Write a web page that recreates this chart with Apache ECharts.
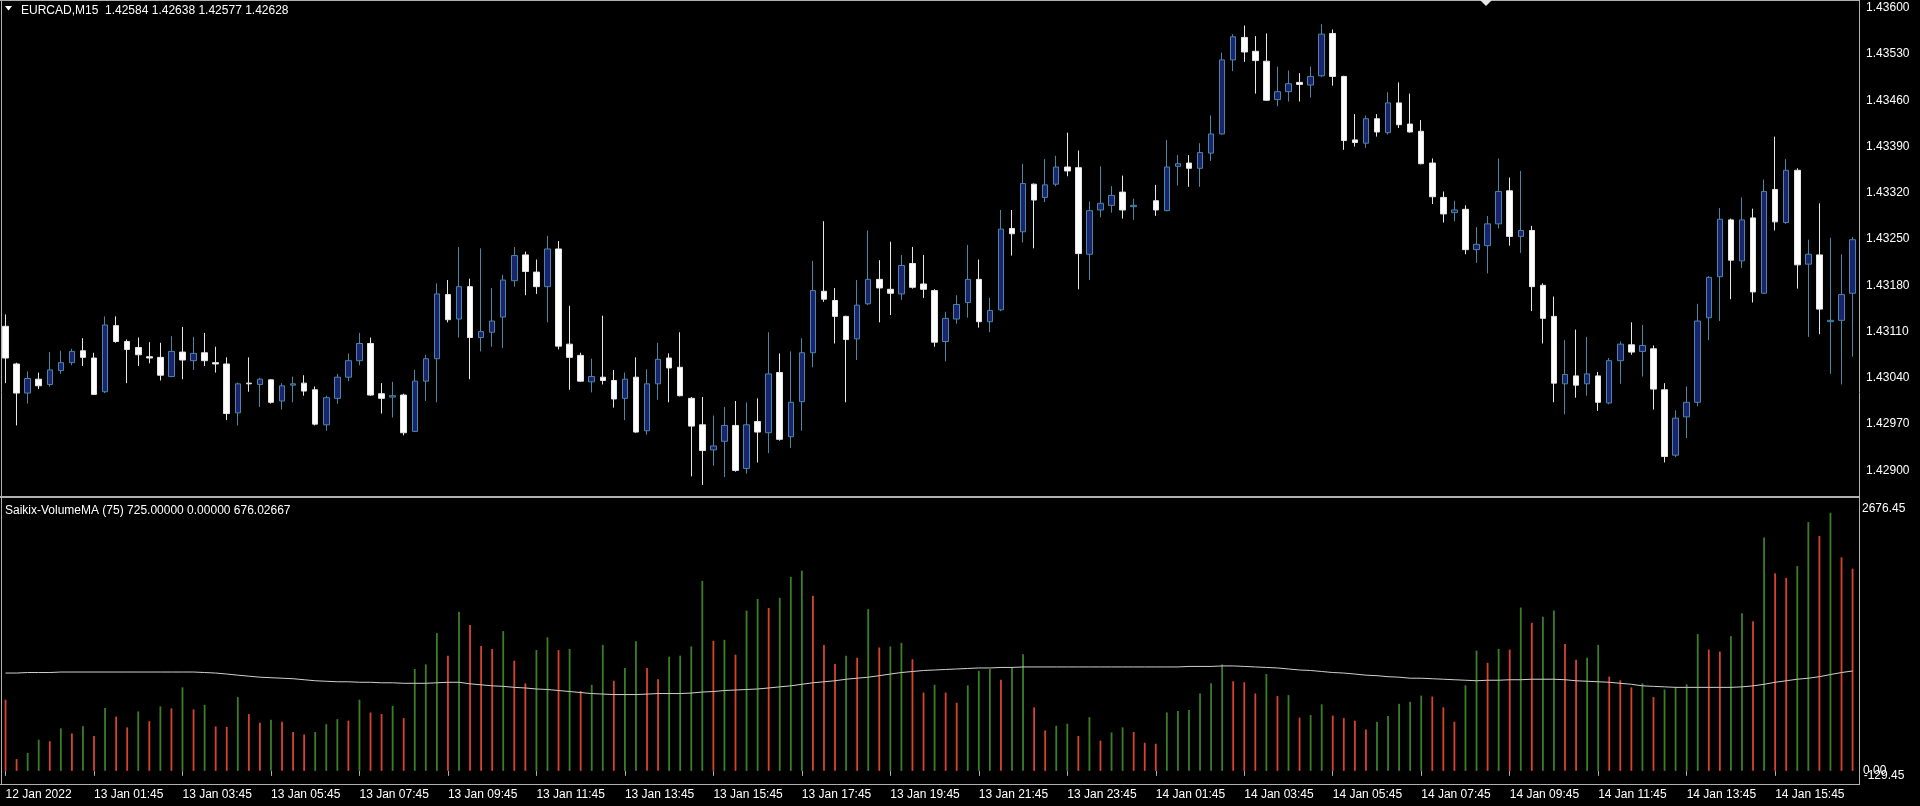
<!DOCTYPE html>
<html>
<head>
<meta charset="utf-8">
<script src="https://cdn.jsdelivr.net/npm/echarts/dist/echarts.min.js"></script>
<style>
html,body{margin:0;padding:0;background:#000;}
#c{width:1920px;height:806px;}
</style>
</head>
<body>
<div id="c"></div>
<script>
// ---- data (EURCAD M15, 12 Jan 2022 23:45 .. 14 Jan 2022 17:30) ----
const startTime = '2022-01-12T23:45:00Z';
const barCount = 168;

const open = [1.43118,1.43061,1.43017,1.43038,1.43030,1.43051,1.43063,1.43081,1.43070,1.43019,
1.43119,1.43095,1.43086,1.43072,1.43071,1.43042,1.43079,1.43066,1.43078,1.43063,
1.43061,1.42987,1.43032,1.43030,1.43037,1.43005,1.43029,1.43032,1.43022,1.42969,
1.43009,1.43041,1.43066,1.43092,1.43016,1.43011,1.43014,1.42959,1.43035,1.43069,
1.43166,1.43129,1.43178,1.43101,1.43109,1.43132,1.43187,1.43226,1.43200,1.43178,
1.43235,1.43091,1.43074,1.43034,1.43041,1.43036,1.43009,1.43041,1.42960,1.43031,
1.43070,1.43056,1.43009,1.42969,1.42931,1.42944,1.42968,1.42903,1.42974,1.42957,
1.43048,1.42951,1.43004,1.43078,1.43171,1.43157,1.43133,1.43099,1.43152,1.43189,
1.43174,1.43167,1.43213,1.43182,1.43172,1.43095,1.43129,1.43154,1.43189,1.43125,
1.43143,1.43266,1.43261,1.43333,1.43313,1.43333,1.43359,1.43358,1.43227,1.43294,
1.43301,1.43321,1.43299,null,1.43308,1.43293,1.43360,1.43365,1.43357,1.43380,
1.43409,1.43521,1.43555,1.43534,1.43519,1.43461,1.43473,1.43487,1.43483,1.43497,
1.43561,1.43496,1.43400,1.43395,1.43432,1.43411,1.43456,1.43424,1.43413,1.43365,
1.43313,1.43290,1.43295,1.43234,1.43240,1.43273,1.43323,1.43254,1.43263,1.43180,
1.43133,1.43031,1.43043,1.43031,1.43043,1.43002,1.43066,1.43090,1.43080,1.43084,
1.43022,1.42923,1.42981,1.43003,1.43131,1.43193,1.43279,1.43217,1.43282,1.43168,
1.43325,1.43275,1.43354,1.43212,1.43226,1.43125,1.43127,1.43168];

const high = [1.43136,1.43063,1.43050,1.43048,1.43079,1.43081,1.43084,1.43100,1.43078,1.43133,
1.43133,1.43098,1.43101,1.43094,1.43093,1.43103,1.43117,1.43102,1.43108,1.43087,
1.43071,1.43033,1.43071,1.43040,1.43038,1.43032,1.43042,1.43044,1.43027,1.43013,
1.43046,1.43077,1.43108,1.43101,1.43032,1.43034,1.43016,1.43052,1.43075,1.43183,
1.43188,1.43238,1.43190,1.43236,1.43176,1.43196,1.43238,1.43231,1.43219,1.43255,
1.43247,1.43149,1.43078,1.43069,1.43134,1.43052,1.43048,1.43071,1.43053,1.43093,
1.43077,1.43109,1.43011,1.43011,1.42983,1.42996,1.43005,1.43003,1.43009,1.43109,
1.43077,1.43080,1.43100,1.43217,1.43277,1.43176,1.43134,1.43188,1.43263,1.43218,
1.43246,1.43226,1.43238,1.43226,1.43174,1.43140,1.43165,1.43241,1.43219,1.43161,
1.43294,1.43294,1.43364,1.43334,1.43371,1.43376,1.43411,1.43384,1.43307,1.43360,
1.43330,1.43346,1.43311,null,1.43332,1.43400,1.43377,1.43377,1.43395,1.43437,
1.43532,1.43560,1.43573,1.43557,1.43561,1.43511,1.43505,1.43501,1.43511,1.43575,
1.43567,1.43497,1.43439,1.43437,1.43439,1.43472,1.43487,1.43470,1.43430,1.43372,
1.43322,1.43308,1.43301,1.43268,1.43285,1.43372,1.43343,1.43353,1.43270,1.43183,
1.43163,1.43097,1.43113,1.43102,1.43049,1.43070,1.43095,1.43124,1.43120,1.43089,
1.43032,1.42991,1.43027,1.43152,1.43194,1.43297,1.43281,1.43313,1.43296,1.43340,
1.43405,1.43371,1.43357,1.43249,1.43304,1.43252,1.43227,1.43253];

const low = [1.43032,1.42968,1.43001,1.43023,1.43027,1.43046,1.43059,1.43058,1.43014,1.43017,
1.43093,1.43032,1.43058,1.43062,1.43036,1.43041,1.43038,1.43052,1.43058,1.43048,
1.42976,1.42968,1.43019,1.42996,1.43001,1.42992,1.43003,1.43013,1.42968,1.42960,
1.43001,1.43035,1.43059,1.43013,1.42986,1.42980,1.42953,1.42958,1.43005,1.43003,
1.43124,1.43101,1.43038,1.43080,1.43087,1.43085,1.43178,1.43165,1.43167,1.43124,
1.43083,1.43022,1.43034,1.43018,1.43030,1.42995,1.42976,1.42957,1.42954,1.43007,
1.43003,1.43012,1.42891,1.42878,1.42907,1.42890,1.42898,1.42895,1.42912,1.42926,
1.42945,1.42934,1.42960,1.43056,1.43155,1.43092,1.43003,1.43067,1.43150,1.43124,
1.43135,1.43158,1.43175,1.43161,1.43087,1.43065,1.43122,1.43131,1.43116,1.43109,
1.43141,1.43225,1.43245,1.43236,1.43306,1.43330,1.43345,1.43174,1.43188,1.43283,
1.43290,1.43281,1.43279,null,1.43285,1.43292,1.43331,1.43329,1.43329,1.43368,
1.43408,1.43504,1.43518,1.43470,1.43459,1.43451,1.43458,1.43458,1.43464,1.43495,
1.43482,1.43385,1.43390,1.43388,1.43405,1.43408,1.43418,1.43411,1.43363,1.43303,
1.43275,1.43277,1.43227,1.43214,1.43198,1.43266,1.43240,1.43229,1.43141,1.43092,
1.43003,1.42985,1.43010,1.43013,1.42990,1.43000,1.43031,1.43075,1.43042,1.42992,
1.42912,1.42920,1.42949,1.42997,1.43097,1.43126,1.43159,1.43206,1.43154,1.43167,
1.43263,1.43273,1.43175,1.43102,1.43106,1.43046,1.43030,1.43072];

const close = [1.43070,1.43017,1.43039,1.43028,1.43052,1.43063,1.43080,1.43071,1.43015,1.43120,
1.43095,1.43083,1.43075,1.43070,1.43044,1.43080,1.43067,1.43077,1.43066,1.43061,
1.42986,1.43031,1.43031,1.43038,1.43003,1.43028,1.43031,1.43020,1.42970,1.43010,
1.43041,1.43066,1.43092,1.43014,1.43009,1.43013,1.42957,1.43035,1.43069,1.43167,
1.43128,1.43178,1.43101,1.43110,1.43126,1.43188,1.43225,1.43201,1.43178,1.43235,
1.43088,1.43071,1.43035,1.43042,1.43036,1.43008,1.43038,1.42958,1.43031,1.43068,
1.43055,1.43013,1.42967,1.42930,1.42937,1.42968,1.42900,1.42969,1.42958,1.43046,
1.42947,1.43003,1.43078,1.43172,1.43159,1.43133,1.43098,1.43150,1.43189,1.43176,
1.43168,1.43210,1.43177,1.43174,1.43094,1.43130,1.43151,1.43189,1.43125,1.43142,
1.43265,1.43258,1.43334,1.43309,1.43332,1.43359,1.43353,1.43228,1.43293,1.43304,
1.43316,1.43294,1.43301,null,1.43294,1.43359,1.43364,1.43357,1.43381,1.43409,
1.43521,1.43556,1.43533,1.43520,1.43460,1.43473,1.43485,1.43484,1.43496,1.43560,
1.43496,1.43399,1.43396,1.43432,1.43412,1.43456,1.43423,1.43412,1.43364,1.43314,
1.43288,1.43294,1.43234,1.43242,1.43273,1.43322,1.43254,1.43263,1.43178,1.43130,
1.43032,1.43045,1.43029,1.43046,1.43003,1.43066,1.43091,1.43079,1.43089,1.43023,
1.42921,1.42979,1.43003,1.43126,1.43192,1.43280,1.43218,1.43279,1.43170,1.43322,
1.43276,1.43354,1.43211,1.43227,1.43144,1.43127,1.43166,1.43249];

const volume = [701,116,176,307,292,418,368,438,343,620,
534,428,585,489,635,615,822,605,650,438,
433,726,559,474,504,484,383,358,383,459,
509,494,701,575,559,640,519,1003,1048,1356,
1134,1567,1436,1230,1200,1376,1084,862,1189,1315,
1189,1200,786,847,1240,887,1013,1275,1013,902,
1124,1134,1225,1870,1280,1290,1144,1578,1693,1603,
1704,1910,1971,1724,1240,1053,1134,1114,1593,1215,
1225,1260,1099,771,847,771,670,842,983,1003,
897,1023,1149,625,398,444,464,343,529,297,
378,428,383,277,267,575,590,600,761,862,
1048,882,872,761,953,736,746,524,549,655,
544,519,494,408,484,539,660,680,741,731,
625,484,842,1184,1063,1200,1194,1608,1457,1517,
1578,1250,1094,1114,1240,927,892,822,862,726,
801,827,852,1346,1194,1174,1326,1552,1472,2298,
1945,1900,2016,2449,2313,2540,2102,1991];
const firstVolumeUp = false;

const volumeMA = [963,963,968,968,968,973,973,973,973,973,
973,973,973,973,973,973,973,973,968,963,
953,942,932,922,917,912,907,897,887,882,
877,877,872,872,867,867,862,862,862,867,
872,872,857,847,837,832,822,816,806,801,
791,781,771,761,756,751,751,751,756,761,
761,761,766,776,781,791,796,801,806,816,
827,837,852,867,877,887,902,912,922,937,
953,968,978,988,993,998,1003,1008,1013,1013,
1018,1018,1023,1023,1023,1023,1023,1023,1023,1023,
1023,1023,1023,1023,1023,1023,1023,1028,1028,1028,
1033,1033,1028,1023,1018,1013,1003,993,988,978,
968,963,953,942,937,927,922,912,912,907,
902,897,892,887,892,892,897,897,902,902,
902,897,887,882,877,872,862,852,837,832,
827,822,822,822,822,822,822,827,837,852,
872,887,902,912,927,948,968,983];

const timeLabels = ['12 Jan 2022','13 Jan 01:45','13 Jan 03:45','13 Jan 05:45','13 Jan 07:45',
'13 Jan 09:45','13 Jan 11:45','13 Jan 13:45','13 Jan 15:45','13 Jan 17:45','13 Jan 19:45',
'13 Jan 21:45','13 Jan 23:45','14 Jan 01:45','14 Jan 03:45','14 Jan 05:45','14 Jan 07:45',
'14 Jan 09:45','14 Jan 11:45','14 Jan 13:45','14 Jan 15:45'];
const labelEvery = 8;

const priceTicks = {min: 1.42900, max: 1.43600, step: 0.00070};
const volumeScale = {min: -129.45, max: 2676.45};
const headerText = 'EURCAD,M15  1.42584 1.42638 1.42577 1.42628';
const indicatorText = 'Saikix-VolumeMA (75) 725.00000 0.00000 676.02667';

// ---- build ----
const categories = [];
{
  const t0 = Date.parse(startTime);
  for (let i = 0; i < barCount; i++) {
    const d = new Date(t0 + i * 15 * 60000);
    categories.push(d.toISOString().slice(0, 16).replace('T', ' '));
  }
}
const candles = open.map((o, i) => o == null ? ['-', '-', '-', '-'] : [o, close[i], low[i], high[i]]);

const FONT = 'Liberation Sans';
const TXT = '#ffffff';
const FRAME = '#b0b0b0';
const step = 11.08;
const gLeft = 2.2 - step / 2;
const gWidth = step * barCount;

const labelInterval = (i) => i % labelEvery === 0;

const chart = echarts.init(document.getElementById('c'), null, {renderer: 'canvas'});
chart.setOption({
  animation: false,
  backgroundColor: '#000000',
  grid: [
    {left: gLeft, width: gWidth, top: 7.7, height: 462.7},
    {left: gLeft, width: gWidth, top: 499, height: 285}
  ],
  xAxis: [
    {type: 'category', gridIndex: 0, data: categories, boundaryGap: true,
     axisLine: {show: false}, axisTick: {show: false}, axisLabel: {show: false}, splitLine: {show: false}},
    {type: 'category', gridIndex: 1, data: categories, boundaryGap: true,
     axisLine: {show: false},
     axisTick: {show: true, alignWithLabel: true, interval: labelInterval, length: 5, lineStyle: {color: FRAME, width: 1}},
     axisLabel: {interval: labelInterval, formatter: (v, i) => timeLabels[Math.round(i / labelEvery)] || '',
       align: 'left', color: TXT, fontFamily: FONT, fontSize: 12, margin: 5},
     splitLine: {show: false}}
  ],
  yAxis: [
    {type: 'value', gridIndex: 0, position: 'right', min: priceTicks.min, max: priceTicks.max, interval: priceTicks.step,
     axisLine: {show: false}, axisTick: {show: false}, splitLine: {show: false},
     axisLabel: {color: TXT, fontFamily: FONT, fontSize: 12, margin: 8, formatter: v => v.toFixed(5)}},
    {type: 'value', gridIndex: 1, position: 'right', min: volumeScale.min, max: volumeScale.max,
     axisLine: {show: false}, axisTick: {show: false}, splitLine: {show: false}, axisLabel: {show: false}}
  ],
  series: [
    {type: 'candlestick', xAxisIndex: 0, yAxisIndex: 0, data: candles, barWidth: 6, clip: false,
     itemStyle: {color: '#19236e', color0: '#ffffff', borderColor: '#4a86a6', borderColor0: '#e6e6e6', borderWidth: 1},
     emphasis: {disabled: true}},
    {type: 'bar', xAxisIndex: 1, yAxisIndex: 1, data: volume, barWidth: 1.8, clip: true,
     itemStyle: {color: (p) => {
       const i = p.dataIndex;
       const up = i === 0 ? firstVolumeUp : volume[i] > volume[i - 1];
       return up ? '#3b7f27' : '#d8432f';
     }},
     emphasis: {disabled: true}},
    {type: 'line', xAxisIndex: 1, yAxisIndex: 1, data: volumeMA, showSymbol: false, symbol: 'none',
     lineStyle: {color: '#d0d0d0', width: 1}, emphasis: {disabled: true}}
  ],
  graphic: [
    {type: 'line', shape: {x1: 0, y1: 0.5, x2: 1860, y2: 0.5}, style: {stroke: FRAME, lineWidth: 1}},
    {type: 'line', shape: {x1: 1.5, y1: 0, x2: 1.5, y2: 785}, style: {stroke: FRAME, lineWidth: 1}},
    {type: 'line', shape: {x1: 1859.5, y1: 0, x2: 1859.5, y2: 785}, style: {stroke: FRAME, lineWidth: 1}},
    {type: 'line', shape: {x1: 0, y1: 497, x2: 1860, y2: 497}, style: {stroke: FRAME, lineWidth: 2}},
    {type: 'line', shape: {x1: 0, y1: 784.5, x2: 1860, y2: 784.5}, style: {stroke: FRAME, lineWidth: 1}},
    {type: 'polygon', shape: {points: [[5, 6], [12, 6], [8.5, 10.5]]}, style: {fill: '#ffffff'}},
    {type: 'polygon', shape: {points: [[1480, 0], [1492, 0], [1486, 6]]}, style: {fill: '#e8e8e8'}},
    {type: 'text', x: 21, y: 11, style: {text: headerText, fill: TXT, font: '12px "Liberation Sans"', verticalAlign: 'middle', align: 'left'}},
    {type: 'text', x: 5, y: 511, style: {text: indicatorText, fill: TXT, font: '12px "Liberation Sans"', verticalAlign: 'middle', align: 'left'}},
    {type: 'text', x: 1862, y: 508.5, style: {text: volumeScale.max.toFixed(2), fill: TXT, font: '12px "Liberation Sans"', verticalAlign: 'middle', align: 'left'}},
    {type: 'text', x: 1863.7, y: 775.5, style: {text: volumeScale.min.toFixed(2), fill: TXT, font: '12px "Liberation Sans"', verticalAlign: 'middle', align: 'left'}},
    {type: 'text', x: 1863, y: 771, style: {text: (0).toFixed(2), fill: TXT, font: '12px "Liberation Sans"', verticalAlign: 'middle', align: 'left'}}
  ]
});
</script>
</body>
</html>
